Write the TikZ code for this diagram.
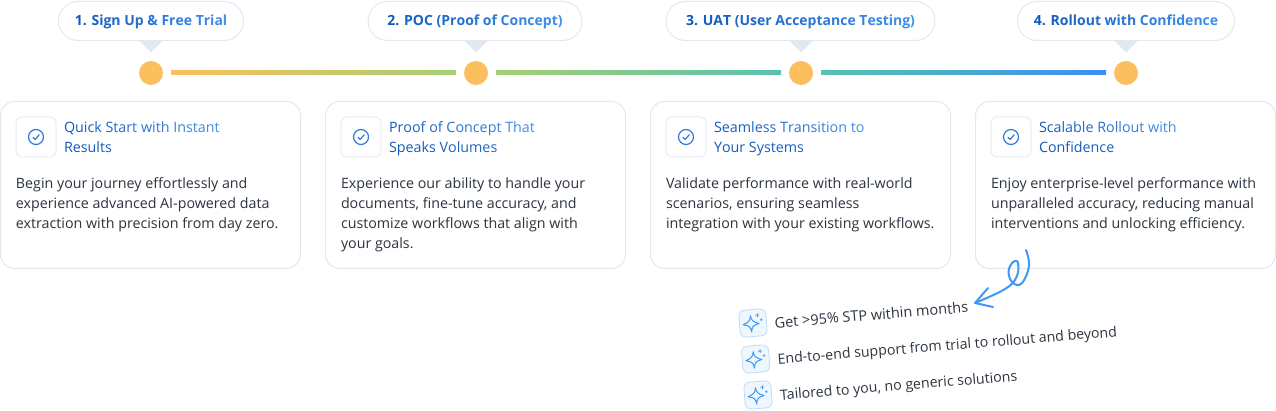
\documentclass[tikz,border=0pt]{standalone}
\usepackage{fontspec}
\usepackage{xcolor}
\usetikzlibrary{calc}
\setmainfont{Open Sans}
\definecolor{edgegrey}{HTML}{E2E8F0}
\definecolor{dotc}{HTML}{FBBF5D}
\definecolor{gradstart}{HTML}{0F57B8}
\definecolor{gradend}{HTML}{4A9BF5}
\definecolor{inkc}{HTML}{2B3440}
\definecolor{bluec}{HTML}{2B7BDE}
\definecolor{arrowc}{HTML}{3D98F7}
\definecolor{lineA}{HTML}{FBBF5D}
\definecolor{lineB}{HTML}{A5CF74}
\definecolor{lineC}{HTML}{58C2AE}
\definecolor{lineD}{HTML}{3B8FF3}
\ExplSyntaxOn
\NewDocumentCommand\gradtxt{mmm}{
  \int_set:Nn \l_tmpa_int {\str_count:n{#3}}
  \int_zero:N \l_tmpb_int
  \str_map_inline:nn {#3}{
    \int_incr:N \l_tmpb_int
    \exp_args:Nx \color {gradend!\int_eval:n{#1+(#2-#1)*\l_tmpb_int/\l_tmpa_int}!gradstart}
    \relax ##1
  }
}
\ExplSyntaxOff
\tikzset{
  x=1pt,y=-1pt,
  every node/.style={inner sep=0pt,outer sep=0pt},
  pill/.style={draw=edgegrey,line width=1pt,fill=white,rounded corners=19.5pt,minimum height=39pt,text height=10pt,text depth=0pt,font=\fontsize{14}{17}\selectfont\bfseries},
  dot/.style={circle,fill=dotc,minimum size=24pt},
  card/.style={draw=edgegrey,line width=1pt,fill=white,rounded corners=14pt,minimum width=300pt,minimum height=167pt},
  iconbox/.style={draw=edgegrey!80,line width=1pt,fill=white,rounded corners=6pt,minimum size=40pt},
  title/.style={anchor=base west,align=left,font=\fontsize{14.3}{20}\selectfont},
  bodytxt/.style={anchor=base west,align=left,text=inkc,font=\fontsize{14.25}{20}\selectfont},
  pointtxt/.style={anchor=base west,text=inkc,rotate=4.6,font=\fontsize{14.15}{17}\selectfont},
  tipc/.style={fill=edgegrey},
  checkring/.style={circle,draw=bluec,line width=1.2pt,minimum size=15pt},
  sparkbox/.style={draw=arrowc!35,fill=arrowc!8,line width=0.8pt,rounded corners=6pt},
  sparkline/.style={draw=arrowc,line width=1pt,line join=round},
  curl/.style={draw=arrowc,line width=2pt,line cap=round,line join=round}
}
\newcommand\sparkmark[1]{%
\begin{scope}[shift={(#1)},rotate=4.6]
\draw[sparkbox] (-13.5,-13.5) rectangle (13.5,13.5);
\draw[sparkline] (-2,-7.5) .. controls (-1.2,-2.5) and (-0.5,-1.5) .. (6,1)
  .. controls (-0.5,2.5) and (-1.2,3.5) .. (-2,9)
  .. controls (-2.8,3.5) and (-3.5,2.5) .. (-10,1)
  .. controls (-3.5,-1.5) and (-2.8,-2.5) .. (-2,-7.5) -- cycle;
\draw[sparkline,line width=0.8pt] (5,-9.5)--(5,-5.5) (3,-7.5)--(7,-7.5) (8.5,-4)--(8.5,-1.5) (7.3,-2.7)--(9.7,-2.7);
\end{scope}}
\newcommand\checkmarkicon[1]{%
\draw[draw=bluec,line width=1.2pt,line cap=round,line join=round] ($(#1)+(-3,0.2)$) -- ($(#1)+(-0.8,2.4)$) -- ($(#1)+(3.2,-2.2)$);}
\begin{document}
\begin{tikzpicture}
\useasboundingbox (0,0) rectangle (1276,411);
\node[dot] (d1) at (151,73) {};
\node[dot] (d2) at (476,73) {};
\node[dot] (d3) at (801,73) {};
\node[dot] (d4) at (1126,73) {};
\shade[left color=lineA,right color=lineB] ($(d1)+(20,-2)$) rectangle ($(d2)+(-20,2)$);
\shade[left color=lineB,right color=lineC] ($(d2)+(20,-2)$) rectangle ($(d3)+(-20,2)$);
\shade[left color=lineC,right color=lineD] ($(d3)+(20,-2)$) rectangle ($(d4)+(-20,2)$);
\node[pill,minimum width=185pt] (p1) at (151,21) {\gradtxt{0}{85}{1. Sign Up & Free Trial}};
\node[pill,minimum width=214pt] (p2) at (475,21) {\gradtxt{0}{85}{2. POC (Proof of Concept)}};
\node[pill,minimum width=269pt] (p3) at (800.5,21) {\gradtxt{0}{85}{3. UAT (User Acceptance Testing)}};
\node[pill,minimum width=217pt] (p4) at (1126,21) {\gradtxt{0}{85}{4. Rollout with Confidence}};
\foreach \n in {1,2,3,4}{
  \fill[tipc] ($(d\n |- p\n.south)+(-11.5,0.5)$) -- ($(d\n |- p\n.south)+(11.5,0.5)$) -- ($(d\n |- p\n.south)+(0,12)$) -- cycle;
}
\node[card] (k1) at (150.5,185) {};
\node[card] (k2) at (475.5,185) {};
\node[card] (k3) at (800.5,185) {};
\node[card] (k4) at (1125.5,185) {};
\foreach \n/\x in {1/36,2/361,3/686,4/1011}{
  \node[iconbox] (b\n) at (\x,137) {};
  \node[checkring] (r\n) at (\x,137) {};
  \checkmarkicon{r\n}
}
\node[title] (t1) at (64,153) {\gradtxt{0}{85}{Quick Start with Instant}\\\gradtxt{0}{12}{Results}};
\node[title] (t2) at (389,153) {\gradtxt{0}{85}{Proof of Concept That}\\\gradtxt{0}{25}{Speaks Volumes}};
\node[title] (t3) at (714,153) {\gradtxt{0}{85}{Seamless Transition to}\\\gradtxt{0}{20}{Your Systems}};
\node[title] (t4) at (1039,153) {\gradtxt{0}{85}{Scalable Rollout with}\\\gradtxt{0}{20}{Confidence}};
\node[bodytxt] (x1) at (16,229) {Begin your journey effortlessly and\\experience advanced AI-powered data\\extraction with precision from day zero.};
\node[bodytxt] (x2) at (341,249) {Experience our ability to handle your\\documents, fine-tune accuracy, and\\customize workflows that align with\\your goals.};
\node[bodytxt] (x3) at (666,229) {Validate performance with real-world\\scenarios, ensuring seamless\\integration with your existing workflows.};
\node[bodytxt] (x4) at (991,229) {Enjoy enterprise-level performance with\\unparalleled accuracy, reducing manual\\interventions and unlocking efficiency.};
\coordinate (tip) at (975,303);
\draw[curl] plot[smooth,tension=0.7] coordinates {(1026,250) (1029,266) (1022,283) (1013,283) (1008.5,272) (1013,262) (1018,263) (1016.5,277) (1005,289) (tip)};
\draw[curl] ($(tip)+(13,-15)$) -- (tip) -- ($(tip)+(18,4)$);
\sparkmark{753,323}
\sparkmark{755.7,359}
\sparkmark{758,395}
\node[pointtxt,font=\fontsize{14.5}{17}\selectfont] (q1) at (775,328) {Get >95\% STP within months};
\node[pointtxt] (q2) at (778,364) {End-to-end support from trial to rollout and beyond};
\node[pointtxt] (q3) at (780.5,400) {Tailored to you, no generic solutions};
\end{tikzpicture}
\end{document}
